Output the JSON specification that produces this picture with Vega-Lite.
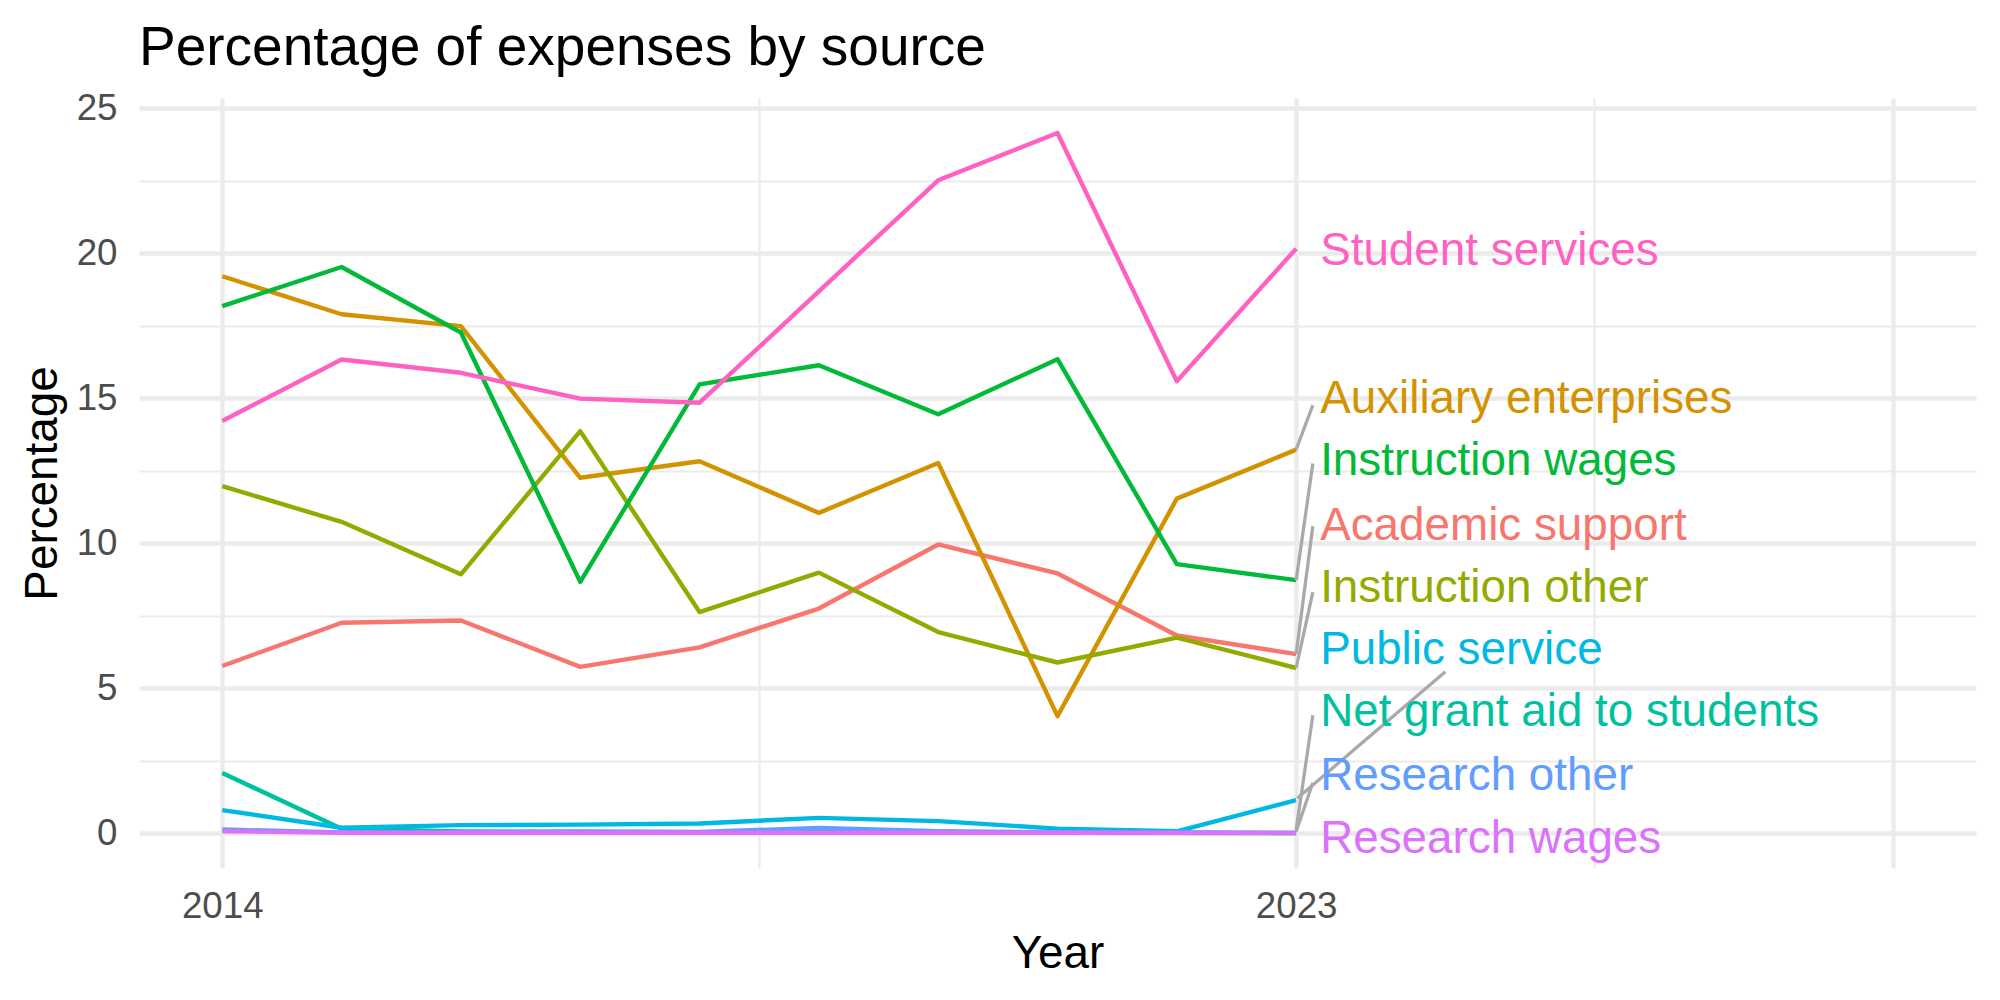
{
  "$schema": "https://vega.github.io/schema/vega-lite/v6.json",
  "width": 1837,
  "height": 770,
  "autosize": {"type": "none"},
  "padding": {"left": 139, "top": 98, "right": 24, "bottom": 132},
  "background": "white",
  "title": {
    "text": "Percentage of expenses by source",
    "anchor": "start",
    "frame": "group",
    "font": "Liberation Sans",
    "fontSize": 55,
    "fontWeight": "normal",
    "color": "#000000",
    "offset": 13
  },
  "config": {
    "font": "Liberation Sans",
    "view": {"stroke": null},
    "axis": {
      "domain": false,
      "ticks": false,
      "gridColor": "#EBEBEB",
      "labelFont": "Liberation Sans",
      "titleFont": "Liberation Sans"
    }
  },
  "datasets": {
    "expenses": [
      {"source": "Academic support", "year": 2014, "pct": 5.76},
      {"source": "Academic support", "year": 2015, "pct": 7.25},
      {"source": "Academic support", "year": 2016, "pct": 7.33},
      {"source": "Academic support", "year": 2017, "pct": 5.73},
      {"source": "Academic support", "year": 2018, "pct": 6.40},
      {"source": "Academic support", "year": 2019, "pct": 7.74},
      {"source": "Academic support", "year": 2020, "pct": 9.95},
      {"source": "Academic support", "year": 2021, "pct": 8.95},
      {"source": "Academic support", "year": 2022, "pct": 6.81},
      {"source": "Academic support", "year": 2023, "pct": 6.17},
      {"source": "Auxiliary enterprises", "year": 2014, "pct": 19.20},
      {"source": "Auxiliary enterprises", "year": 2015, "pct": 17.89},
      {"source": "Auxiliary enterprises", "year": 2016, "pct": 17.48},
      {"source": "Auxiliary enterprises", "year": 2017, "pct": 12.25},
      {"source": "Auxiliary enterprises", "year": 2018, "pct": 12.82},
      {"source": "Auxiliary enterprises", "year": 2019, "pct": 11.04},
      {"source": "Auxiliary enterprises", "year": 2020, "pct": 12.76},
      {"source": "Auxiliary enterprises", "year": 2021, "pct": 4.03},
      {"source": "Auxiliary enterprises", "year": 2022, "pct": 11.53},
      {"source": "Auxiliary enterprises", "year": 2023, "pct": 13.22},
      {"source": "Instruction other", "year": 2014, "pct": 11.96},
      {"source": "Instruction other", "year": 2015, "pct": 10.73},
      {"source": "Instruction other", "year": 2016, "pct": 8.92},
      {"source": "Instruction other", "year": 2017, "pct": 13.86},
      {"source": "Instruction other", "year": 2018, "pct": 7.62},
      {"source": "Instruction other", "year": 2019, "pct": 8.98},
      {"source": "Instruction other", "year": 2020, "pct": 6.93},
      {"source": "Instruction other", "year": 2021, "pct": 5.88},
      {"source": "Instruction other", "year": 2022, "pct": 6.74},
      {"source": "Instruction other", "year": 2023, "pct": 5.69},
      {"source": "Instruction wages", "year": 2014, "pct": 18.17},
      {"source": "Instruction wages", "year": 2015, "pct": 19.52},
      {"source": "Instruction wages", "year": 2016, "pct": 17.26},
      {"source": "Instruction wages", "year": 2017, "pct": 8.66},
      {"source": "Instruction wages", "year": 2018, "pct": 15.47},
      {"source": "Instruction wages", "year": 2019, "pct": 16.13},
      {"source": "Instruction wages", "year": 2020, "pct": 14.44},
      {"source": "Instruction wages", "year": 2021, "pct": 16.34},
      {"source": "Instruction wages", "year": 2022, "pct": 9.27},
      {"source": "Instruction wages", "year": 2023, "pct": 8.72},
      {"source": "Net grant aid to students", "year": 2014, "pct": 2.07},
      {"source": "Net grant aid to students", "year": 2015, "pct": 0.15},
      {"source": "Net grant aid to students", "year": 2016, "pct": 0.05},
      {"source": "Net grant aid to students", "year": 2017, "pct": 0.04},
      {"source": "Net grant aid to students", "year": 2018, "pct": 0.03},
      {"source": "Net grant aid to students", "year": 2019, "pct": 0.03},
      {"source": "Net grant aid to students", "year": 2020, "pct": 0.02},
      {"source": "Net grant aid to students", "year": 2021, "pct": 0.02},
      {"source": "Net grant aid to students", "year": 2022, "pct": 0.01},
      {"source": "Net grant aid to students", "year": 2023, "pct": 0.0},
      {"source": "Public service", "year": 2014, "pct": 0.79},
      {"source": "Public service", "year": 2015, "pct": 0.18},
      {"source": "Public service", "year": 2016, "pct": 0.27},
      {"source": "Public service", "year": 2017, "pct": 0.29},
      {"source": "Public service", "year": 2018, "pct": 0.33},
      {"source": "Public service", "year": 2019, "pct": 0.52},
      {"source": "Public service", "year": 2020, "pct": 0.41},
      {"source": "Public service", "year": 2021, "pct": 0.15},
      {"source": "Public service", "year": 2022, "pct": 0.06},
      {"source": "Public service", "year": 2023, "pct": 1.13},
      {"source": "Research other", "year": 2014, "pct": 0.12},
      {"source": "Research other", "year": 2015, "pct": 0.02},
      {"source": "Research other", "year": 2016, "pct": 0.03},
      {"source": "Research other", "year": 2017, "pct": 0.05},
      {"source": "Research other", "year": 2018, "pct": 0.04},
      {"source": "Research other", "year": 2019, "pct": 0.17},
      {"source": "Research other", "year": 2020, "pct": 0.06},
      {"source": "Research other", "year": 2021, "pct": 0.03},
      {"source": "Research other", "year": 2022, "pct": 0.02},
      {"source": "Research other", "year": 2023, "pct": 0.0},
      {"source": "Research wages", "year": 2014, "pct": 0.06},
      {"source": "Research wages", "year": 2015, "pct": 0.01},
      {"source": "Research wages", "year": 2016, "pct": 0.01},
      {"source": "Research wages", "year": 2017, "pct": 0.01},
      {"source": "Research wages", "year": 2018, "pct": 0.01},
      {"source": "Research wages", "year": 2019, "pct": 0.01},
      {"source": "Research wages", "year": 2020, "pct": 0.01},
      {"source": "Research wages", "year": 2021, "pct": 0.01},
      {"source": "Research wages", "year": 2022, "pct": 0.0},
      {"source": "Research wages", "year": 2023, "pct": 0.0},
      {"source": "Student services", "year": 2014, "pct": 14.21},
      {"source": "Student services", "year": 2015, "pct": 16.33},
      {"source": "Student services", "year": 2016, "pct": 15.87},
      {"source": "Student services", "year": 2017, "pct": 14.98},
      {"source": "Student services", "year": 2018, "pct": 14.84},
      {"source": "Student services", "year": 2019, "pct": 18.68},
      {"source": "Student services", "year": 2020, "pct": 22.51},
      {"source": "Student services", "year": 2021, "pct": 24.14},
      {"source": "Student services", "year": 2022, "pct": 15.58},
      {"source": "Student services", "year": 2023, "pct": 20.15}
    ],
    "leaders": [
      {"source": "Auxiliary enterprises", "from_year": 2023, "to_year": 2023.14, "from_pct": 13.22, "to_pct": 14.75},
      {"source": "Instruction wages", "from_year": 2023, "to_year": 2023.14, "from_pct": 8.72, "to_pct": 12.74},
      {"source": "Academic support", "from_year": 2023, "to_year": 2023.14, "from_pct": 6.17, "to_pct": 10.58},
      {"source": "Instruction other", "from_year": 2023, "to_year": 2023.14, "from_pct": 5.69, "to_pct": 8.31},
      {"source": "Public service", "from_year": 2023.01, "to_year": 2024.25, "from_pct": 1.2, "to_pct": 5.56},
      {"source": "Net grant aid to students", "from_year": 2023, "to_year": 2023.14, "from_pct": 0.1, "to_pct": 4.06},
      {"source": "Research other", "from_year": 2023, "to_year": 2023.14, "from_pct": 0.05, "to_pct": 1.73}
    ],
    "labels": [
      {"source": "Student services", "label_pct": 20.15},
      {"source": "Auxiliary enterprises", "label_pct": 15.05},
      {"source": "Instruction wages", "label_pct": 12.89},
      {"source": "Academic support", "label_pct": 10.67},
      {"source": "Instruction other", "label_pct": 8.52},
      {"source": "Public service", "label_pct": 6.39},
      {"source": "Net grant aid to students", "label_pct": 4.23},
      {"source": "Research other", "label_pct": 2.02},
      {"source": "Research wages", "label_pct": -0.15}
    ]
  },
  "layer": [
    {
      "data": {"name": "expenses"},
      "mark": {"type": "line", "strokeWidth": 4.4, "strokeCap": "butt", "strokeJoin": "round"},
      "encoding": {
        "x": {
          "field": "year",
          "type": "quantitative",
          "scale": {"domain": [2013.302, 2028.698], "nice": false, "zero": false},
          "axis": {
            "values": [2014, 2023, 2028],
            "format": "d",
            "labelExpr": "datum.value == 2028 ? '' : datum.label",
            "grid": true,
            "gridWidth": 4.3,
            "labelFontSize": 36.7,
            "labelColor": "#4D4D4D",
            "labelPadding": 20,
            "title": "Year",
            "titleFontSize": 45.8,
            "titleFontWeight": "normal",
            "titleColor": "#000000",
            "titlePadding": 7
          }
        },
        "y": {
          "field": "pct",
          "type": "quantitative",
          "scale": {"domain": [-1.207, 25.347], "nice": false, "zero": false},
          "axis": {
            "values": [0, 5, 10, 15, 20, 25],
            "grid": true,
            "gridWidth": 4.3,
            "labelFontSize": 36.7,
            "labelColor": "#4D4D4D",
            "labelPadding": 22,
            "title": "Percentage",
            "titleFontSize": 45.8,
            "titleFontWeight": "normal",
            "titleColor": "#000000",
            "titlePadding": 10
          }
        },
        "color": {
          "field": "source",
          "type": "nominal",
          "scale": {
            "domain": ["Academic support", "Auxiliary enterprises", "Instruction other", "Instruction wages", "Net grant aid to students", "Public service", "Research other", "Research wages", "Student services"],
            "range": ["#F8766D", "#D39200", "#93AA00", "#00BA38", "#00C19F", "#00B9E3", "#619CFF", "#DB72FB", "#FF61C3"]
          },
          "legend": null
        }
      }
    },
    {
      "data": {"name": "leaders"},
      "mark": {"type": "rule", "color": "#A9A9A9", "strokeWidth": 3.3},
      "encoding": {
        "x": {
          "field": "from_year",
          "type": "quantitative",
          "axis": {
            "orient": "bottom",
            "values": [2018.5, 2025.5],
            "grid": true,
            "gridWidth": 2.2,
            "labels": false,
            "title": null
          }
        },
        "x2": {"field": "to_year"},
        "y": {
          "field": "from_pct",
          "type": "quantitative",
          "axis": {
            "orient": "left",
            "values": [2.5, 7.5, 12.5, 17.5, 22.5],
            "grid": true,
            "gridWidth": 2.2,
            "labels": false,
            "title": null
          }
        },
        "y2": {"field": "to_pct"}
      }
    },
    {
      "data": {"name": "labels"},
      "mark": {"type": "text", "align": "left", "baseline": "middle", "fontSize": 45.8, "dx": 24, "dy": 2},
      "encoding": {
        "x": {"datum": 2023, "type": "quantitative", "axis": null},
        "y": {"field": "label_pct", "type": "quantitative", "axis": null},
        "text": {"field": "source"},
        "color": {"field": "source", "type": "nominal", "legend": null}
      }
    }
  ],
  "resolve": {"axis": {"x": "independent", "y": "independent"}}
}
